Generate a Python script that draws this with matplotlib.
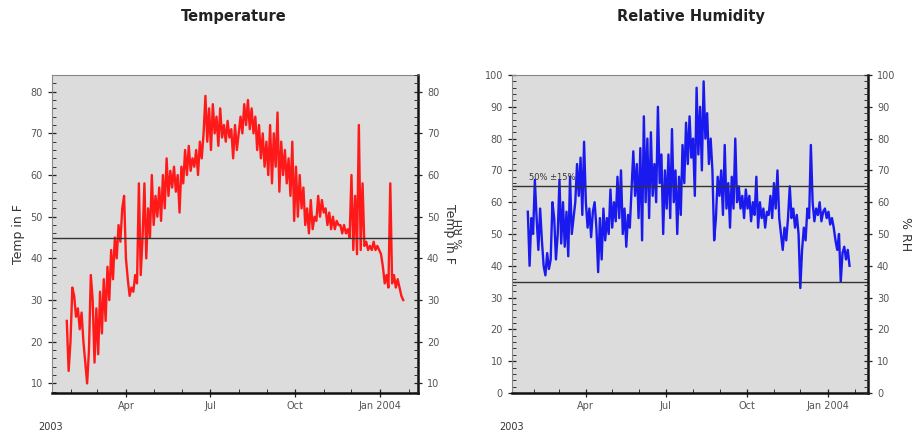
import matplotlib
matplotlib.use("Agg")
import matplotlib.pyplot as plt
import matplotlib.dates as mdates
from matplotlib.ticker import MultipleLocator
import numpy as np
import datetime as dt

# ---------------- data ----------------
temp_start = "2003-01-27"
temp_step_days = 2
temp_values = [
    25, 13, 20, 33, 31, 26, 28, 23, 27, 20,
    15, 10, 18, 36, 30, 15, 28, 17, 32, 22,
    35, 25, 38, 30, 42, 35, 45, 40, 48, 44,
    52, 55, 40, 35, 31, 33, 32, 36, 34, 58,
    36, 45, 58, 40, 52, 45, 60, 48, 55, 50,
    57, 49, 60, 52, 64, 55, 61, 57, 62, 56,
    60, 51, 62, 58, 66, 60, 67, 61, 64, 62,
    66, 60, 68, 64, 70, 79, 68, 76, 66, 77,
    70, 74, 67, 76, 69, 72, 68, 73, 69, 71,
    64, 72, 66, 70, 74, 70, 77, 72, 78, 71,
    76, 70, 74, 66, 72, 64, 70, 62, 68, 60,
    72, 58, 70, 62, 75, 56, 68, 60, 66, 58,
    64, 55, 68, 49, 62, 50, 60, 52, 57, 48,
    52, 46, 54, 47, 50, 49, 55, 50, 54, 51,
    52, 48, 51, 47, 50, 47, 49, 48, 48, 46,
    48, 46, 47, 45, 60, 42, 55, 41, 72, 42,
    58, 43, 44, 42, 43, 42, 44, 42, 43, 42,
    41, 38, 34, 36, 33, 58, 34, 36, 33, 35,
    33, 31, 30,
]
temp_limit = 45

rh_start = "2003-01-25"
rh_step_days = 2
rh_values = [
    57, 40, 55, 50, 67, 55, 45, 58, 48, 40,
    37, 44, 39, 42, 60, 55, 42, 50, 67, 47,
    60, 46, 57, 43, 68, 50, 55, 60, 72, 62,
    74, 56, 79, 60, 52, 58, 49, 57, 60, 52,
    38, 55, 42, 58, 48, 55, 50, 64, 52, 60,
    54, 68, 55, 70, 50, 58, 46, 56, 52, 64,
    76, 62, 72, 55, 77, 48, 87, 60, 80, 55,
    82, 62, 72, 60, 90, 66, 75, 50, 70, 58,
    75, 55, 83, 60, 70, 50, 68, 56, 78, 66,
    85, 72, 87, 74, 80, 62, 96, 75, 90, 70,
    98, 80, 88, 72, 80, 70, 48, 55, 68, 62,
    70, 56, 78, 58, 66, 52, 68, 58, 80, 60,
    65, 58, 62, 55, 64, 58, 62, 54, 60, 56,
    68, 52, 60, 55, 58, 52, 57, 56, 62, 55,
    66, 58, 70, 55, 50, 45, 52, 48, 55, 65,
    55, 58, 52, 56, 50, 33, 45, 52, 48, 58,
    55, 78, 60, 54, 58, 56, 60, 54, 57, 58,
    55, 57, 53, 55, 52, 48, 45, 50, 35, 44,
    46, 42, 45, 40,
]
rh_limits = [65, 35]
rh_note = "50% \u00b115%"

titles = ["Temperature", "Relative Humidity"]
ylabels = ["Temp in F", "% RH"]
year_label = "2003"


def dates_from(start, step, n):
    s = np.datetime64(start)
    return s + np.arange(n) * np.timedelta64(step, "D")


temp_dates = dates_from(temp_start, temp_step_days, len(temp_values))
rh_dates = dates_from(rh_start, rh_step_days, len(rh_values))

# ---------------- figure ----------------
W, H = 915, 437
fig = plt.figure(figsize=(W / 100, H / 100), dpi=100)
bg = "#dcdcdc"
tick_color = "#555555"


def px_axes(x0, x1, y0, y1):
    return fig.add_axes([x0 / W, (H - y1) / H, (x1 - x0) / W, (y1 - y0) / H])


def style_axes(ax, ylim, major, xlim):
    ax.set_facecolor(bg)
    ax.set_xlim(xlim)
    ax.set_ylim(ylim)
    ax.yaxis.set_major_locator(MultipleLocator(major))
    ax.yaxis.set_minor_locator(MultipleLocator(2))
    ax.xaxis.set_major_locator(mdates.MonthLocator(bymonth=[1, 4, 7, 10]))
    ax.xaxis.set_minor_locator(mdates.MonthLocator())

    def fmt(x, pos=None):
        d = mdates.num2date(x)
        return d.strftime("%b %Y") if d.month == 1 else d.strftime("%b")
    ax.xaxis.set_major_formatter(plt.FuncFormatter(fmt))
    ax.tick_params(axis="both", which="major", direction="inout", length=6,
                   width=0.9, labelsize=7, labelcolor=tick_color, color="#222222")
    ax.tick_params(axis="both", which="minor", direction="in", length=3,
                   width=0.7, color="#333333")
    ax.tick_params(axis="x", which="major", pad=3)
    for side in ["top", "left"]:
        ax.spines[side].set_color("#888888")
        ax.spines[side].set_linewidth(0.8)
    for side in ["bottom", "right"]:
        ax.spines[side].set_color("#111111")
        ax.spines[side].set_linewidth(1.8)


def add_right(ax, ylim, major, label):
    tw = ax.twinx()
    tw.set_ylim(ylim)
    tw.yaxis.set_major_locator(MultipleLocator(major))
    tw.yaxis.set_minor_locator(MultipleLocator(2))
    tw.tick_params(axis="y", which="major", direction="inout", length=6,
                   width=0.9, labelsize=7, labelcolor=tick_color, color="#222222")
    tw.tick_params(axis="y", which="minor", direction="in", length=3,
                   width=0.7, color="#333333")
    for s in tw.spines.values():
        s.set_visible(False)
    tw.set_ylabel(label, rotation=270, fontsize=9, color="#333333", labelpad=12)
    return tw


# ---- Temperature ----
ax1 = px_axes(52, 418, 75, 393)
xlim1 = (mdates.date2num(dt.datetime(2003, 1, 11)), mdates.date2num(dt.datetime(2004, 2, 11)))
style_axes(ax1, (7.7, 84), 10, xlim1)
ax1.plot(temp_dates, temp_values, color="#ff1a1a", lw=1.7)
ax1.axhline(temp_limit, color="#333333", lw=1.0)
ax1.set_ylabel(ylabels[0], fontsize=9, color="#333333", labelpad=4)
add_right(ax1, (7.7, 84), 10, ylabels[0])
fig.text(234 / W, 1 - 17 / H, titles[0], ha="center", va="center",
         fontsize=10.5, fontweight="bold", color="#222222")
fig.text(51 / W, 1 - 427 / H, year_label, ha="center", va="center",
         fontsize=7, color="#333333")

# ---- Relative Humidity ----
ax2 = px_axes(512, 868, 75, 393)
xlim2 = (mdates.date2num(dt.datetime(2003, 1, 7)), mdates.date2num(dt.datetime(2004, 2, 16)))
style_axes(ax2, (0, 100), 10, xlim2)
ax2.plot(rh_dates, rh_values, color="#1a1aee", lw=1.7)
for v in rh_limits:
    ax2.axhline(v, color="#333333", lw=1.0)
ax2.text(mdates.date2num(dt.datetime(2003, 1, 26)), rh_limits[0] + 1.5, rh_note,
         fontsize=6, color="#333333", va="bottom")
ax2.set_ylabel(ylabels[1], fontsize=8, color="#333333", labelpad=14)
add_right(ax2, (0, 100), 10, ylabels[1])
fig.text(691 / W, 1 - 17 / H, titles[1], ha="center", va="center",
         fontsize=10.5, fontweight="bold", color="#222222")
fig.text(512 / W, 1 - 427 / H, year_label, ha="center", va="center",
         fontsize=7, color="#333333")

fig.savefig("out.png", dpi=100)
